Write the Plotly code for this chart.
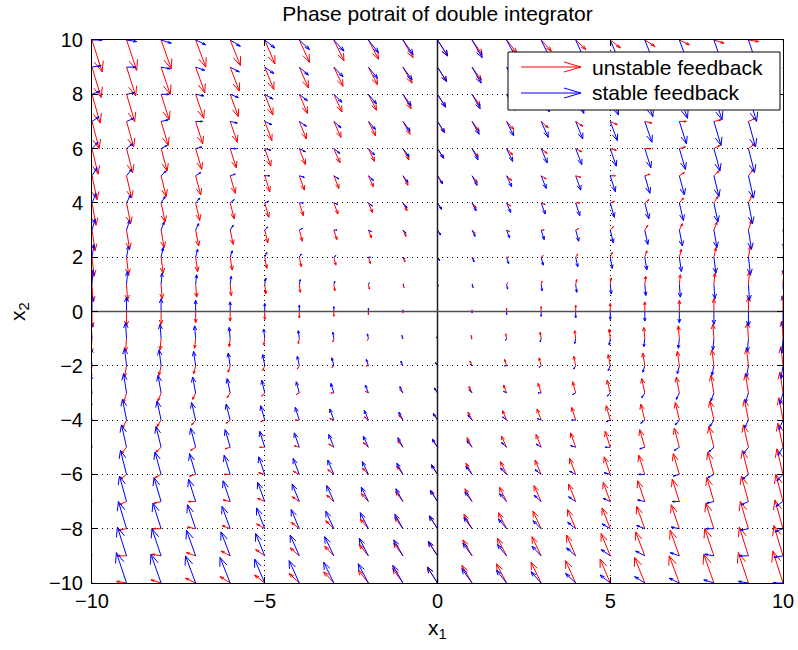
import numpy as np
import plotly.graph_objects as go

# ---- data (grid of states and feedback gains) ----
x1_grid = list(range(-10, 11))
x2_grid = list(range(-10, 11))
K_unstable = [-2, 2]   # u = -K x  -> x2' = 2*x1 - 2*x2
K_stable = [2, 2]      # u = -K x  -> x2' = -2*x1 - 2*x2
x_ticks = [-10, -5, 0, 5, 10]
y_ticks = [-10, -8, -6, -4, -2, 0, 2, 4, 6, 8, 10]
series_names = ["unstable feedback", "stable feedback"]
series_colors = ["rgb(255,0,0)", "rgb(0,0,255)"]

FONT = "Liberation Sans, Arial, Helvetica, sans-serif"
TICK_SIZE = 20
TEXT_SIZE = 21


def field(K):
    X1, X2 = np.meshgrid(np.array(x1_grid, float), np.array(x2_grid, float))
    U = X2
    V = -K[0] * X1 - K[1] * X2
    return X1, X2, U, V


def quiver_xy(X, Y, U, V):
    m, n = X.shape
    delx = (X.max() - X.min()) / n
    dely = (Y.max() - Y.min()) / m
    d = delx ** 2 + dely ** 2
    ln = np.sqrt((U ** 2 + V ** 2) / d)
    s = 0.9 / ln.max()
    U = U * s
    V = V * s
    alpha, beta, eps = 0.33, 0.33, 1e-12
    xs, ys = [], []
    for x, y, u, v in zip(X.ravel(), Y.ravel(), U.ravel(), V.ravel()):
        if abs(u) < 1e-12 and abs(v) < 1e-12:
            continue
        xs += [x, x + u, None]
        ys += [y, y + v, None]
        xs += [x + u - alpha * (u + beta * (v + eps)), x + u,
               x + u - alpha * (u - beta * (v + eps)), None]
        ys += [y + v - alpha * (v - beta * (u + eps)), y + v,
               y + v - alpha * (v + beta * (u + eps)), None]
    return xs, ys


fig = go.Figure()
for K, name, col in zip([K_unstable, K_stable], series_names, series_colors):
    xs, ys = quiver_xy(*field(K))
    fig.add_trace(go.Scatter(x=xs, y=ys, mode="lines", name=name,
                             line=dict(color=col, width=1), showlegend=False,
                             hoverinfo="skip"))

# axis lines through origin
fig.add_trace(go.Scatter(x=[0, 0], y=[-10, 10], mode="lines",
                         line=dict(color="rgb(30,30,30)", width=1.5),
                         showlegend=False, hoverinfo="skip"))
fig.add_trace(go.Scatter(x=[-10, 10], y=[0, 0], mode="lines",
                         line=dict(color="rgb(80,80,80)", width=1.5),
                         showlegend=False, hoverinfo="skip"))

axis_common = dict(showline=True, linecolor="black", linewidth=1, mirror="ticks",
                   ticks="inside", ticklen=6, tickcolor="black",
                   showgrid=True, gridcolor="black", gridwidth=1,
                   griddash="1px,4px", zeroline=False, automargin=False,
                   tickfont=dict(family=FONT, size=TICK_SIZE, color="black"))

fig.update_xaxes(range=[-10, 10], tickvals=x_ticks, **axis_common)
fig.update_yaxes(range=[-10, 10], tickvals=y_ticks, ticklabelstandoff=4, **axis_common)

W, H = 798, 650
ml, mr, mt, mb = 92, 15, 40, 67
pw, ph = W - ml - mr, H - mt - mb


def px(xp):
    return (xp - ml) / pw


def py(yp):
    return (H - mb - yp) / ph


# axis labels
fig.add_annotation(xref="paper", yref="paper", x=px(437.5), y=py(629), text="x<sub>1</sub>",
                   showarrow=False, xanchor="center", yanchor="middle",
                   font=dict(family=FONT, size=TEXT_SIZE, color="black"))
fig.add_annotation(xref="paper", yref="paper", x=px(19), y=py(312), text="x<sub>2</sub>",
                   showarrow=False, xanchor="center", yanchor="middle", textangle=-90,
                   font=dict(family=FONT, size=TEXT_SIZE, color="black"))

# legend box drawn manually (MATLAB-style arrows)
L, R, T, B = 508, 780, 52, 110
fig.add_shape(type="rect", xref="paper", yref="paper", x0=px(L), x1=px(R), y0=py(B), y1=py(T),
              line=dict(color="black", width=1), fillcolor="white", layer="above")
for i, (name, col) in enumerate(zip(series_names, series_colors)):
    yrow = 67 + i * 26
    fig.add_shape(type="line", xref="paper", yref="paper", x0=px(521), x1=px(581),
                  y0=py(yrow), y1=py(yrow), line=dict(color=col, width=1), layer="above")
    fig.add_shape(type="path", xref="paper", yref="paper",
                  path=f"M {px(564)} {py(yrow - 5)} L {px(581)} {py(yrow)} L {px(564)} {py(yrow + 5)}",
                  line=dict(color=col, width=1), layer="above")
    fig.add_annotation(xref="paper", yref="paper", x=px(590), y=py(yrow), text=name,
                       showarrow=False, xanchor="left", yanchor="middle",
                       font=dict(family=FONT, size=TEXT_SIZE, color="black"))

fig.update_layout(
    width=W, height=H,
    margin=dict(l=ml, r=mr, t=mt, b=mb, autoexpand=False),
    paper_bgcolor="white", plot_bgcolor="white",
    title=dict(text="Phase potrait of double integrator", x=(ml + pw / 2) / W, xanchor="center",
               y=1 - 14 / H, yanchor="middle",
               font=dict(family=FONT, size=TEXT_SIZE, color="black")),
)

fig.write_html("out.html")
